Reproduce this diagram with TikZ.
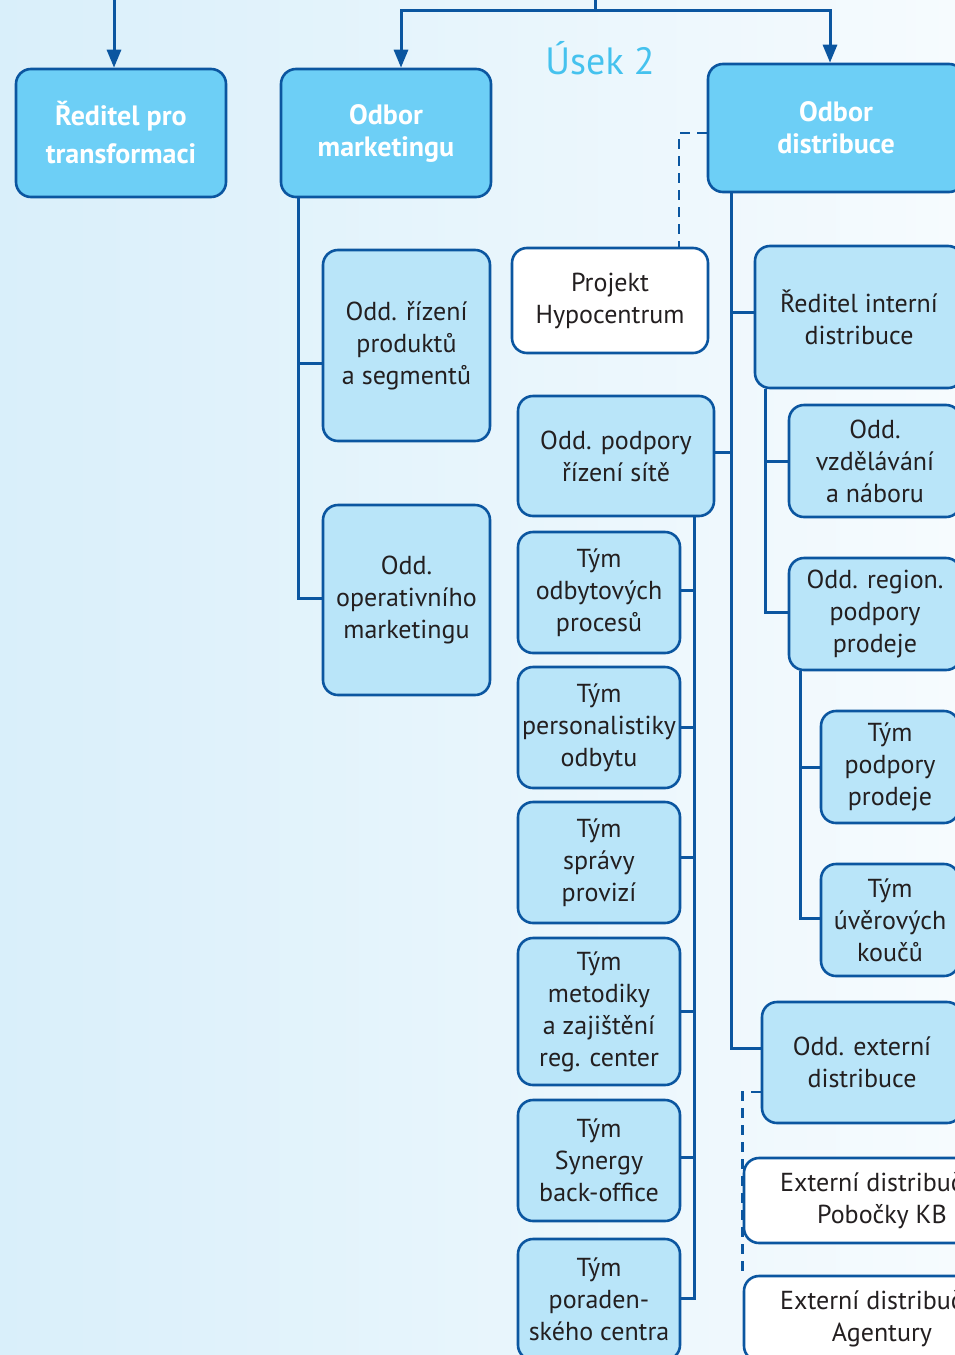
\documentclass[tikz,border=0pt]{standalone}
\usepackage{fontspec}
\setmainfont{PT Sans}
\usetikzlibrary{arrows.meta}
\definecolor{bgl}{HTML}{D9EFFA}
\definecolor{bgr}{HTML}{F6FBFE}
\definecolor{linec}{HTML}{0B56A0}
\definecolor{darkfill}{HTML}{6DCFF6}
\definecolor{lightfill}{HTML}{B9E5F9}
\definecolor{txt}{HTML}{231F20}
\definecolor{usek}{HTML}{45C2EE}
\begin{document}
\begin{tikzpicture}[x=1pt,y=-1pt,
  box/.style={draw=linec, line width=2.6pt, rounded corners=15pt, align=center, inner sep=0pt, text=txt, font=\fontsize{26}{32}\selectfont},
  lbox/.style={box, fill=lightfill},
  dbox/.style={box, fill=darkfill, text=white, font=\fontsize{28}{32}\selectfont\bfseries},
  wbox/.style={box, fill=white},
  conn/.style={draw=linec, line width=3pt},
  arr/.style={conn, -{Triangle[width=14pt,length=18pt]}},
  dconn/.style={draw=linec, line width=2.8pt, dash pattern=on 10pt off 7pt}
]
\useasboundingbox (0,0) rectangle (955,1355);
\clip (0,0) rectangle (955,1355);
\shade[left color=bgl, right color=bgr] (0,0) rectangle (955,1355);

% top level
\node[dbox, minimum width=210pt, minimum height=128pt, font=\fontsize{28}{38}\selectfont\bfseries] (trans) at (121,133) {Ředitel pro\\transformaci};
\node[dbox, minimum width=210pt, minimum height=128pt] (mkt) at (386,133) {Odbor\\marketingu};
\node[dbox, minimum width=256pt, minimum height=128pt] (dist) at (836,128) {Odbor\\distribuce};
\node[text=usek, font=\fontsize{38}{44}\selectfont, inner sep=0pt] (usek) at (600,58) {Úsek 2};

% marketing
\node[lbox, minimum width=167pt, minimum height=191pt] (prod) at (406.5,345.5) {Odd. řízení\\produktů\\a segmentů};
\node[lbox, minimum width=167pt, minimum height=190pt] (oper) at (406.5,600) {Odd.\\operativního\\marketingu};

% distribuce
\node[wbox, minimum width=196pt, minimum height=105pt] (proj) at (610,300.5) {Projekt\\Hypocentrum};
\node[lbox, minimum width=208pt, minimum height=142pt] (ridint) at (859,317) {Ředitel interní\\distribuce};
\node[lbox, minimum width=196pt, minimum height=120pt] (podp) at (616,456) {Odd. podpory\\řízení sítě};
\node[lbox, minimum width=172pt, minimum height=112pt] (vzd) at (875,461) {Odd.\\vzdělávání\\a náboru};
\node[lbox, minimum width=172pt, minimum height=112pt] (region) at (875,614) {Odd. region.\\podpory\\prodeje};
\node[lbox, minimum width=138pt, minimum height=112pt] (tpp) at (890,767) {Tým\\podpory\\prodeje};
\node[lbox, minimum width=138pt, minimum height=112pt] (tuk) at (890,920) {Tým\\úvěrových\\koučů};
\node[lbox, minimum width=200pt, minimum height=121pt] (ext) at (862,1062.5) {Odd. externí\\distribuce};
\node[wbox, minimum width=276pt, minimum height=85pt] (kb) at (882,1200.5) {Externí distribuční\\Pobočky KB};
\node[wbox, minimum width=276pt, minimum height=85pt] (ag) at (882,1318.5) {Externí distribuční\\Agentury};

% teams
\node[lbox, minimum width=162pt, minimum height=121pt] (t1) at (599,592.5) {Tým\\odbytových\\procesů};
\node[lbox, minimum width=162pt, minimum height=121pt] (t2) at (599,727.5) {Tým\\personalistiky\\odbytu};
\node[lbox, minimum width=162pt, minimum height=121pt] (t3) at (599,862.5) {Tým\\správy\\provizí};
\node[lbox, minimum width=162pt, minimum height=147pt] (t4) at (599,1011.5) {Tým\\metodiky\\a zajištění\\reg. center};
\node[lbox, minimum width=162pt, minimum height=121pt] (t5) at (599,1160.5) {Tým\\Synergy\\back-office};
\node[lbox, minimum width=162pt, minimum height=121pt] (t6) at (599,1299.5) {Tým\\poraden-\\ského centra};

% top connectors
\coordinate (top1) at (114,0);
\draw[arr] (top1) -- (top1 |- trans.north);
\coordinate (top2) at (595,0);
\coordinate (bus0) at (595,10);
\draw[conn] (top2) -- (bus0);
\draw[arr] (bus0) -| ([xshift=15pt]mkt.north);
\draw[arr] (bus0) -| ([xshift=-6pt]dist.north);

% marketing connectors
\coordinate (mbus) at ([xshift=19pt]mkt.south west);
\draw[conn] (mbus) |- ([yshift=2pt]oper.west);
\draw[conn] ([yshift=-17.5pt]prod.west) -- ([yshift=-17.5pt]prod.west -| mbus);

% distribuce connectors
\coordinate (dbus) at ([xshift=25pt]dist.south west);
\draw[conn] (dbus) |- ([yshift=14.5pt]ext.west);
\draw[conn] ([yshift=5pt]ridint.west) -- ([yshift=5pt]ridint.west -| dbus);
\draw[conn] ([yshift=4pt]podp.east) -- ([yshift=4pt]podp.east -| dbus);

\coordinate (rbus) at ([xshift=12pt]ridint.south west);
\draw[conn] (rbus) |- ([yshift=2pt]region.west);
\draw[conn] (vzd.west) -- (vzd.west -| rbus);

\coordinate (gbus) at ([xshift=13pt]region.south west);
\draw[conn] (gbus) |- ([yshift=2pt]tuk.west);
\draw[conn] (tpp.west) -- (tpp.west -| gbus);

\coordinate (pbus) at ([xshift=178pt]podp.south west);
\draw[conn] (pbus) |- ([yshift=1.5pt]t6.east);
\draw[conn] ([yshift=2.5pt]t1.east) -- ([yshift=2.5pt]t1.east -| pbus);
\draw[conn] ([yshift=0.5pt]t2.east) -- ([yshift=0.5pt]t2.east -| pbus);
\draw[conn] ([yshift=5.5pt]t3.east) -- ([yshift=5.5pt]t3.east -| pbus);
\draw[conn] ([yshift=0.5pt]t4.east) -- ([yshift=0.5pt]t4.east -| pbus);
\draw[conn] ([yshift=3.5pt]t5.east) -- ([yshift=3.5pt]t5.east -| pbus);

% dashed
\draw[dconn] ([yshift=-5pt]dist.west) -| ([xshift=69pt]proj.north);
\draw[dconn] ([yshift=-29.5pt]ext.west) -| (ag.north west);
\end{tikzpicture}
\end{document}
